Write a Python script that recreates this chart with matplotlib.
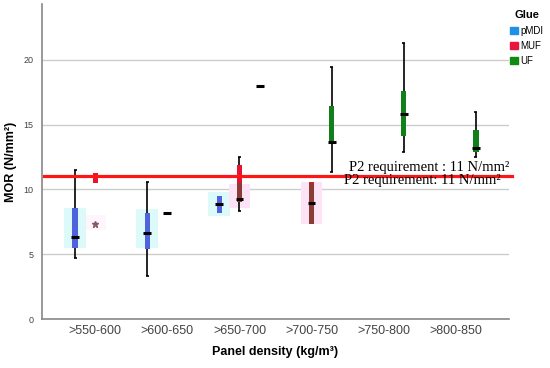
import matplotlib
matplotlib.use("Agg")
import matplotlib.pyplot as plt
from matplotlib.patches import Patch

plt.rcParams["font.family"] = ["Liberation Sans", "DejaVu Sans"]

# --- data ---
categories = [">550-600", ">600-650", ">650-700", ">700-750", ">750-800", ">800-850"]
glues = ["pMDI", "MUF", "UF"]

# one entry per box: category index, glue, whisker low, q1, median, q3, whisker high
box_cat = [0, 0, 1, 2, 2, 3, 3, 4, 5]
box_glue = ["pMDI", "MUF", "pMDI", "pMDI", "MUF", "MUF", "UF", "UF", "UF"]
box_lo = [4.73, 10.5, 3.34, 8.16, 8.34, 7.34, 11.37, 12.87, 12.53]
box_q1 = [5.45, 10.5, 5.38, 8.16, 9.06, 7.34, 13.57, 14.15, 12.92]
box_med = [6.3, None, 6.66, 8.85, 9.27, 8.98, 13.69, 15.8, 13.23]
box_q3 = [8.55, 11.3, 8.2, 9.52, 11.9, 10.6, 16.45, 17.6, 14.6]
box_hi = [11.5, 11.3, 10.55, 9.52, 12.53, 10.6, 19.48, 21.3, 15.96]

# groups with a single observation (only a median dash)
single_cat = [1, 2]
single_glue = ["MUF", "UF"]
single_val = [8.2, 18.0]

# outliers
outlier_cat = [0]
outlier_glue = ["MUF"]
outlier_val = [7.3]

# faded background boxes left in the figure
shade_cat = [0, 0, 1, 2, 2, 3]
shade_glue = ["pMDI", "MUF", "pMDI", "pMDI", "MUF", "MUF"]
shade_lo = [5.45, 6.9, 5.5, 7.98, 8.6, 7.34]
shade_hi = [8.55, 8.0, 8.5, 9.83, 10.4, 10.6]

requirement = 11

offset = {"pMDI": -0.28, "MUF": 0.0, "UF": 0.28}
box_color = {"pMDI": "#4f63df", "MUF": "#e8132e", "UF": "#11801a"}
shade_color = {"pMDI": "#dcfafa", "MUF": "#fde3f6", "UF": "#e0f5e0"}
legend_color = {"pMDI": "#1e90e8", "MUF": "#e8163c", "UF": "#128a12"}
muf_low_color = "#8a3c35"

fig = plt.figure(figsize=(5.5, 3.68), dpi=100)
ax = fig.add_axes([0.0764, 0.133, 0.849, 0.856])

for i in range(len(shade_cat)):
    x = shade_cat[i] + offset[shade_glue[i]]
    a = 0.3 if (shade_glue[i] == "MUF" and shade_cat[i] == 0) else 1.0
    ax.bar(x, shade_hi[i] - shade_lo[i], bottom=shade_lo[i], width=0.3,
           color=shade_color[shade_glue[i]], alpha=a, zorder=1)

for i in range(len(box_cat)):
    g = box_glue[i]
    x = box_cat[i] + offset[g]
    ax.vlines(x, box_lo[i], box_q1[i], color="black", lw=1.2, zorder=3)
    ax.vlines(x, box_q3[i], box_hi[i], color="black", lw=1.2, zorder=3)
    if box_hi[i] > box_q3[i]:
        ax.hlines(box_hi[i], x - 0.02, x + 0.02, color="black", lw=1.2, zorder=3)
    if box_lo[i] < box_q1[i]:
        ax.hlines(box_lo[i], x - 0.02, x + 0.02, color="black", lw=1.2, zorder=3)
    if g == "MUF":
        cut = min(max(box_q1[i], 10.5), box_q3[i])
        ax.bar(x, cut - box_q1[i], bottom=box_q1[i], width=0.075,
               color=muf_low_color, zorder=4)
        ax.bar(x, box_q3[i] - cut, bottom=cut, width=0.075,
               color=box_color[g], zorder=4)
    else:
        ax.bar(x, box_q3[i] - box_q1[i], bottom=box_q1[i], width=0.075,
               color=box_color[g], zorder=4)
    if box_med[i] is not None:
        ax.hlines(box_med[i], x - 0.055, x + 0.055, color="black", lw=2.2, zorder=5)

for c, g, v in zip(single_cat, single_glue, single_val):
    x = c + offset[g]
    ax.hlines(v, x - 0.055, x + 0.055, color="black", lw=2.2, zorder=5)

for c, g, v in zip(outlier_cat, outlier_glue, outlier_val):
    ax.plot(c + offset[g], v, marker="*", ms=5, color="#8a5a66", zorder=5)

# requirement line and its two labels
ax.axhline(requirement, xmin=0.005, xmax=1.006, color="#ff1515", lw=2.3,
           zorder=6, clip_on=False)
ax.text(5.74, requirement + 0.45, "P2 requirement : 11 N/mm²", ha="right",
        va="baseline", fontsize=10.5, family="Liberation Serif", zorder=7)
ax.text(5.62, requirement - 0.58, "P2 requirement: 11 N/mm²", ha="right",
        va="baseline", fontsize=10.5, family="Liberation Serif", zorder=7)

ax.set_xlim(-0.74, 5.74)
ax.set_ylim(0, 24.3)
ax.set_xticks(range(len(categories)))
ax.set_xticklabels(categories, fontsize=9, color="#444444")
ax.set_yticks([0, 5, 10, 15, 20])
ax.tick_params(axis="y", labelsize=6.5, labelcolor="#444444", length=0, pad=6)
ax.tick_params(axis="x", length=0, pad=4)
ax.yaxis.grid(True, color="#cccccc", lw=1)
ax.set_axisbelow(True)
for s in ["top", "right"]:
    ax.spines[s].set_visible(False)
for s in ["left", "bottom"]:
    ax.spines[s].set_color("#888888")
    ax.spines[s].set_linewidth(1.2)

ax.set_xlabel("Panel density (kg/m³)", fontsize=9, fontweight="bold", labelpad=7)
ax.set_ylabel("MOR (N/mm²)", fontsize=9, fontweight="bold")
ax.yaxis.set_label_coords(-0.054, 0.5)

handles = [Patch(color=legend_color[g], label=g) for g in glues]
leg = ax.legend(handles=handles, title="Glue", loc="upper left",
                bbox_to_anchor=(1.0, 0.985), frameon=False, fontsize=7,
                handlelength=0.75, handleheight=0.75, handletextpad=0.25,
                labelspacing=0.55, borderpad=0.0, borderaxespad=0.15)
leg.get_title().set_fontweight("bold")
leg.get_title().set_fontsize(8)

fig.savefig("out.png", dpi=100)
